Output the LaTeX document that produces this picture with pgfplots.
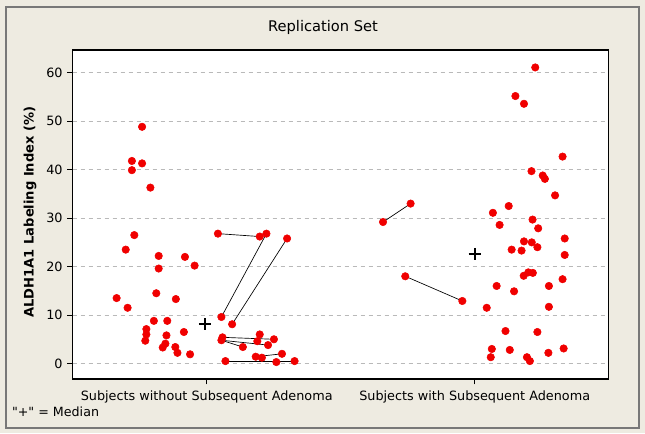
\documentclass[border=0pt]{standalone}
\usepackage{pgfplots}
\pgfplotsset{compat=1.18}
\usepackage{fontspec}
\setmainfont{DejaVu Sans}
\newfontfamily\plainfont{DejaVu Sans}[Ligatures=TeXOff]
\definecolor{bg}{RGB}{238,235,225}
\definecolor{frame}{RGB}{120,120,120}
\definecolor{dotred}{RGB}{240,0,0}
\begin{document}
\begin{tikzpicture}
\fill[bg] (0,0) rectangle (483.75pt,324.75pt);
\draw[frame, line width=0.9pt] (4.5pt,3.75pt) rectangle (479.25pt,319.5pt);
\node[font=\fontsize{11}{13}\selectfont] at (242.25pt,304.5pt) {Replication Set};
\node[anchor=west, font=\plainfont\fontsize{9.5}{11}\selectfont] at (5.5pt,15.75pt) {"+" = Median};
\node[rotate=90, font=\fontsize{9.8}{12}\selectfont\bfseries] at (22.5pt,165.75pt) {ALDH1A1 Labeling Index (\%)};
\begin{axis}[
  at={(54.5pt,40.5pt)}, anchor=south west,
  scale only axis, width=402pt, height=246.75pt,
  xmin=0.5, xmax=2.5, ymin=-3.2, ymax=64.7,
  axis background/.style={fill=white},
  axis line style={black, line width=0.8pt},
  xtick={1,2}, xticklabels={Subjects without Subsequent Adenoma, Subjects with Subsequent Adenoma},
  ytick={0,10,20,30,40,50,60},
  tick align=outside, major tick length=4pt,
  xtick pos=bottom, ytick pos=left,
  tick style={black, line width=0.6pt},
  ymajorgrids, grid style={dashed, gray!55, line width=0.6pt},
  tick label style={font=\fontsize{9.6}{11}\selectfont},
  /pgf/number format/assume math mode=true,
  xticklabel style={yshift=-1pt},
  clip=false,
]
% paired lines
\addplot[black, line width=0.5pt] coordinates {(1.042,26.8) (1.198,26.2)};
\addplot[black, line width=0.5pt] coordinates {(1.055,9.6) (1.223,26.8)};
\addplot[black, line width=0.5pt] coordinates {(1.095,8.1) (1.300,25.8)};
\addplot[black, line width=0.5pt] coordinates {(1.059,5.4) (1.251,5.0)};
\addplot[black, line width=0.5pt] coordinates {(1.055,4.8) (1.229,3.8)};
\addplot[black, line width=0.5pt] coordinates {(1.055,4.8) (1.135,3.4)};
\addplot[black, line width=0.5pt] coordinates {(1.183,1.4) (1.281,2.0)};
\addplot[black, line width=0.5pt] coordinates {(1.070,0.5) (1.328,0.5)};
\addplot[black, line width=0.5pt] coordinates {(1.658,29.2) (1.761,33.0)};
\addplot[black, line width=0.5pt] coordinates {(1.741,18.0) (1.954,12.9)};
% group 1 points
\addplot[only marks, mark=*, mark size=2.8pt, color=dotred] coordinates {
(0.759,48.85) (0.721,41.8) (0.759,41.3) (0.721,39.9) (0.790,36.3)
(0.730,26.5) (0.698,23.5) (0.821,22.2) (0.919,22.0) (0.955,20.2)
(0.821,19.6) (0.664,13.5) (0.812,14.5) (0.885,13.3) (0.705,11.5)
(0.803,8.8) (0.853,8.8) (0.775,7.1) (0.775,6.0) (0.771,4.7)
(0.850,5.8) (0.915,6.5) (0.846,4.1) (0.836,3.3) (0.883,3.4)
(0.891,2.2) (0.938,1.9)
(1.042,26.8) (1.198,26.2) (1.223,26.8) (1.300,25.8)
(1.055,9.6) (1.095,8.1) (1.059,5.4) (1.055,4.8) (1.251,5.0)
(1.229,3.8) (1.135,3.4) (1.198,6.0) (1.189,4.6) (1.281,2.0)
(1.183,1.4) (1.206,1.2) (1.260,0.3) (1.070,0.5) (1.328,0.5)
};
% group 2 points
\addplot[only marks, mark=*, mark size=2.8pt, color=dotred] coordinates {
(1.658,29.2) (1.761,33.0) (1.741,18.0) (1.954,12.9)
(2.226,61.1) (2.152,55.2) (2.184,53.6) (2.328,42.7) (2.212,39.7)
(2.254,38.8) (2.262,38.1) (2.300,34.7) (2.127,32.5) (2.068,31.1)
(2.093,28.6) (2.216,29.7) (2.237,27.9) (2.336,25.8) (2.184,25.2)
(2.213,25.0) (2.234,24.0) (2.138,23.5) (2.175,23.3) (2.336,22.4)
(2.183,18.1) (2.200,18.8) (2.217,18.7) (2.328,17.4) (2.082,16.0)
(2.277,16.0) (2.147,14.9) (2.045,11.5) (2.277,11.7) (2.115,6.7)
(2.234,6.5) (2.064,3.0) (2.131,2.8) (2.332,3.1) (2.275,2.2)
(2.060,1.3) (2.195,1.3) (2.206,0.5)
};
% medians
\addplot[only marks, mark=+, mark size=4.5pt, black, line width=1.4pt] coordinates {(0.993,8.1) (2.0,22.6)};
\end{axis}
\end{tikzpicture}
\end{document}
